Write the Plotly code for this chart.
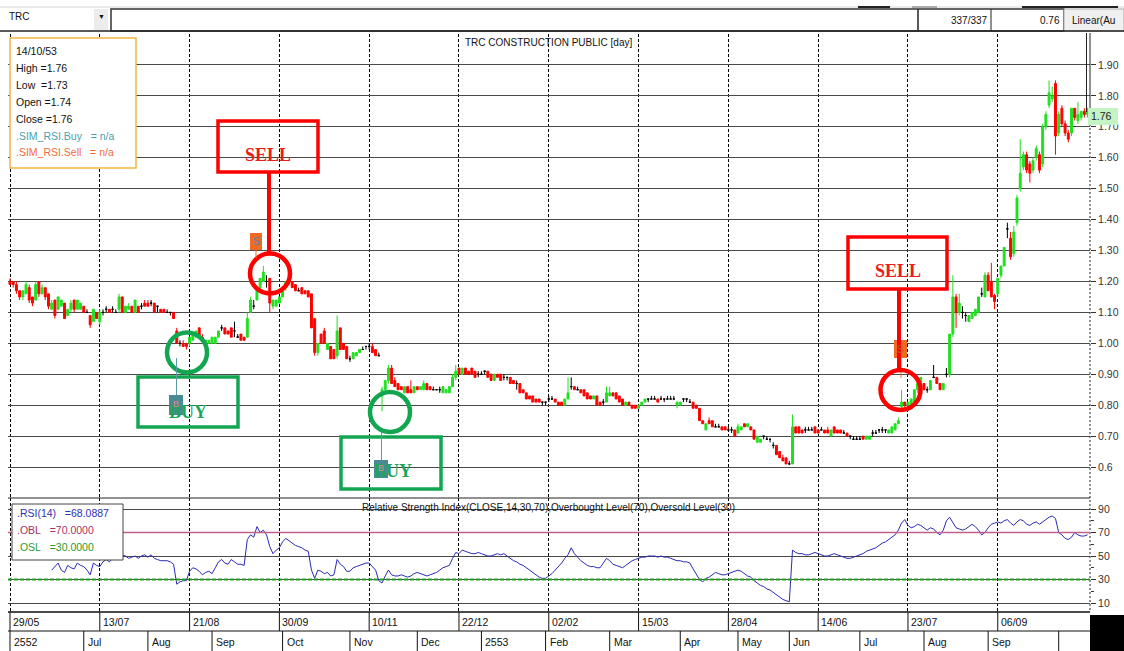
import plotly.graph_objects as go

# ---------------- data ----------------
symbol = "TRC"
title_text = "TRC CONSTRUCTION PUBLIC [day]"
last_date = "14/10/53"

opens = [
    1.20,1.20,1.19,1.17,1.15,1.16,1.18,1.15,1.14,1.20,
    1.16,1.18,1.16,1.11,1.14,1.11,1.12,1.13,1.09,1.11,
    1.14,1.11,1.11,1.12,1.10,1.09,1.07,1.10,1.07,1.10,
    1.11,1.11,1.11,1.10,1.11,1.15,1.10,1.11,1.12,1.10,
    1.12,1.12,1.13,1.13,1.13,1.13,1.12,1.11,1.11,1.10,
    1.10,1.10,1.04,1.00,1.00,1.00,1.00,1.01,1.02,1.05,
    1.02,0.99,1.00,1.00,1.00,1.02,1.05,1.05,1.04,1.05,
    1.04,1.02,1.03,1.02,1.02,1.10,1.12,1.14,1.18,1.20,
    1.20,1.21,1.12,1.12,1.13,1.15,1.18,1.20,1.20,1.19,
    1.17,1.18,1.17,1.17,1.16,1.08,0.97,1.03,1.04,0.98,
    0.99,0.98,0.96,1.05,1.00,0.99,0.95,0.95,0.96,0.97,
    0.98,0.99,0.99,0.99,0.98,0.96,0.83,0.85,0.88,0.92,
    0.88,0.87,0.86,0.84,0.86,0.85,0.84,0.86,0.85,0.85,
    0.87,0.86,0.85,0.85,0.85,0.84,0.84,0.84,0.86,0.89,
    0.92,0.90,0.92,0.91,0.92,0.91,0.90,0.90,0.91,0.91,
    0.90,0.88,0.90,0.90,0.89,0.89,0.89,0.88,0.87,0.87,
    0.85,0.84,0.83,0.83,0.82,0.82,0.81,0.81,0.82,0.82,
    0.82,0.81,0.81,0.80,0.82,0.86,0.86,0.85,0.85,0.85,
    0.84,0.83,0.82,0.83,0.81,0.81,0.81,0.83,0.84,0.84,
    0.83,0.82,0.80,0.81,0.80,0.80,0.79,0.80,0.81,0.82,
    0.82,0.82,0.82,0.82,0.82,0.82,0.82,0.82,0.80,0.80,
    0.82,0.82,0.81,0.81,0.80,0.79,0.75,0.72,0.75,0.75,
    0.73,0.73,0.73,0.73,0.72,0.72,0.72,0.71,0.72,0.74,
    0.73,0.73,0.72,0.68,0.68,0.70,0.69,0.69,0.67,0.67,
    0.65,0.63,0.63,0.61,0.61,0.73,0.73,0.72,0.72,0.72,
    0.72,0.73,0.72,0.72,0.72,0.72,0.70,0.73,0.72,0.72,
    0.71,0.71,0.70,0.69,0.69,0.69,0.70,0.69,0.69,0.71,
    0.71,0.72,0.72,0.72,0.71,0.71,0.72,0.74,0.795,0.81,
    0.80,0.80,0.81,0.85,0.86,0.87,0.85,0.85,0.89,0.89,
    0.87,0.85,0.90,0.90,1.03,1.15,1.10,1.10,1.09,1.07,
    1.08,1.09,1.10,1.16,1.15,1.22,1.20,1.155,1.16,1.22,
    1.25,1.37,1.34,1.29,1.39,1.50,1.57,1.61,1.58,1.56,
    1.60,1.61,1.58,1.70,1.77,1.79,1.84,1.68,1.76,1.71,
    1.68,1.68,1.76,1.72,1.73,1.75,1.74,
]
highs = [
    1.21,1.20,1.20,1.17,1.17,1.20,1.19,1.15,1.20,1.20,
    1.19,1.18,1.16,1.14,1.14,1.15,1.14,1.13,1.11,1.14,
    1.14,1.14,1.13,1.12,1.11,1.09,1.11,1.10,1.11,1.11,
    1.12,1.11,1.12,1.11,1.16,1.15,1.12,1.13,1.12,1.14,
    1.12,1.13,1.14,1.14,1.14,1.13,1.12,1.11,1.11,1.11,
    1.10,1.10,1.05,1.01,1.01,1.00,1.02,1.03,1.04,1.05,
    1.03,1.01,1.01,1.02,1.02,1.04,1.06,1.05,1.04,1.05,
    1.07,1.03,1.03,1.02,1.10,1.15,1.14,1.18,1.21,1.25,
    1.22,1.21,1.14,1.14,1.15,1.18,1.20,1.21,1.20,1.19,
    1.18,1.18,1.17,1.17,1.16,1.08,1.00,1.03,1.05,1.00,
    0.99,0.98,1.09,1.05,1.00,0.99,0.96,0.97,0.97,0.98,
    0.99,0.99,1.00,1.00,0.98,0.97,0.86,0.88,0.93,0.93,
    0.89,0.87,0.86,0.86,0.86,0.88,0.86,0.86,0.86,0.88,
    0.87,0.86,0.86,0.85,0.86,0.86,0.85,0.86,0.90,0.93,
    0.92,0.92,0.92,0.91,0.92,0.91,0.91,0.91,0.91,0.91,
    0.90,0.90,0.90,0.90,0.90,0.89,0.89,0.88,0.88,0.87,
    0.85,0.84,0.83,0.83,0.82,0.82,0.81,0.81,0.83,0.83,
    0.82,0.81,0.81,0.82,0.89,0.89,0.86,0.86,0.85,0.85,
    0.84,0.83,0.83,0.83,0.81,0.82,0.86,0.86,0.84,0.84,
    0.83,0.82,0.81,0.81,0.80,0.80,0.80,0.81,0.82,0.82,
    0.83,0.83,0.82,0.83,0.82,0.83,0.83,0.83,0.81,0.81,
    0.82,0.82,0.82,0.81,0.80,0.79,0.75,0.74,0.76,0.75,
    0.74,0.74,0.73,0.73,0.73,0.73,0.72,0.74,0.73,0.74,
    0.74,0.73,0.72,0.70,0.69,0.70,0.70,0.69,0.68,0.67,
    0.65,0.64,0.63,0.62,0.77,0.73,0.73,0.72,0.73,0.73,
    0.73,0.73,0.72,0.73,0.72,0.73,0.72,0.73,0.72,0.72,
    0.72,0.71,0.70,0.70,0.70,0.70,0.70,0.70,0.70,0.72,
    0.72,0.72,0.73,0.72,0.72,0.73,0.74,0.76,0.85,0.81,
    0.81,0.82,0.85,0.87,0.89,0.87,0.86,0.88,0.93,0.89,
    0.87,0.87,0.92,1.03,1.22,1.16,1.16,1.12,1.10,1.09,
    1.10,1.11,1.15,1.18,1.23,1.23,1.26,1.16,1.21,1.25,
    1.31,1.39,1.36,1.38,1.48,1.66,1.62,1.62,1.59,1.60,
    1.64,1.62,1.71,1.75,1.85,1.83,1.85,1.75,1.77,1.72,
    1.69,1.76,1.76,1.78,1.75,1.76,1.76,
]
lows = [
    1.19,1.18,1.16,1.14,1.14,1.16,1.13,1.12,1.14,1.15,
    1.16,1.14,1.11,1.11,1.08,1.11,1.12,1.08,1.09,1.10,
    1.10,1.11,1.11,1.10,1.10,1.05,1.07,1.08,1.06,1.09,
    1.10,1.10,1.10,1.10,1.10,1.10,1.10,1.11,1.10,1.10,
    1.10,1.11,1.12,1.12,1.12,1.10,1.10,1.10,1.10,1.10,
    1.09,1.08,1.00,0.99,0.99,0.98,0.99,1.01,1.02,1.02,
    1.01,0.99,1.00,1.00,1.00,1.02,1.04,1.03,1.03,1.02,
    1.02,1.02,1.01,1.01,1.02,1.10,1.11,1.14,1.17,1.20,
    1.18,1.10,1.11,1.12,1.13,1.15,1.17,1.19,1.18,1.17,
    1.17,1.16,1.16,1.15,1.05,0.96,0.96,1.00,1.00,0.98,
    0.95,0.95,0.95,0.98,0.98,0.95,0.94,0.95,0.96,0.97,
    0.98,0.98,0.98,0.97,0.96,0.96,0.78,0.84,0.87,0.87,
    0.86,0.85,0.85,0.84,0.84,0.84,0.84,0.85,0.85,0.85,
    0.85,0.85,0.85,0.85,0.84,0.84,0.84,0.84,0.86,0.88,
    0.90,0.90,0.90,0.90,0.90,0.89,0.89,0.90,0.90,0.89,
    0.88,0.88,0.89,0.88,0.88,0.88,0.87,0.87,0.85,0.84,
    0.84,0.82,0.82,0.81,0.81,0.81,0.80,0.80,0.81,0.82,
    0.81,0.80,0.80,0.80,0.82,0.85,0.85,0.85,0.84,0.83,
    0.82,0.82,0.82,0.80,0.80,0.80,0.81,0.83,0.83,0.82,
    0.81,0.80,0.80,0.80,0.79,0.79,0.79,0.80,0.81,0.81,
    0.82,0.82,0.81,0.82,0.81,0.82,0.82,0.82,0.79,0.80,
    0.81,0.81,0.81,0.79,0.79,0.75,0.74,0.72,0.74,0.73,
    0.73,0.73,0.72,0.72,0.72,0.71,0.70,0.71,0.72,0.73,
    0.73,0.72,0.69,0.68,0.68,0.69,0.69,0.68,0.66,0.64,
    0.63,0.62,0.61,0.61,0.61,0.71,0.71,0.71,0.71,0.72,
    0.72,0.71,0.71,0.72,0.71,0.71,0.70,0.71,0.71,0.71,
    0.71,0.70,0.69,0.69,0.69,0.69,0.69,0.69,0.69,0.70,
    0.71,0.71,0.71,0.71,0.71,0.71,0.72,0.74,0.79,0.79,
    0.79,0.80,0.81,0.84,0.86,0.85,0.84,0.85,0.89,0.87,
    0.85,0.85,0.89,0.89,1.02,1.05,1.09,1.08,1.07,1.07,
    1.08,1.09,1.10,1.15,1.15,1.17,1.15,1.11,1.15,1.21,
    1.25,1.34,1.27,1.28,1.38,1.49,1.56,1.55,1.52,1.55,
    1.59,1.55,1.57,1.69,1.76,1.78,1.61,1.67,1.70,1.67,
    1.65,1.67,1.72,1.71,1.72,1.73,1.73,
]
closes = [
    1.19,1.19,1.17,1.15,1.17,1.19,1.14,1.13,1.19,1.16,
    1.18,1.15,1.12,1.13,1.09,1.15,1.14,1.08,1.11,1.13,
    1.11,1.14,1.13,1.10,1.10,1.06,1.11,1.08,1.10,1.10,
    1.11,1.10,1.11,1.10,1.15,1.10,1.12,1.12,1.10,1.14,
    1.10,1.12,1.12,1.12,1.13,1.10,1.12,1.10,1.10,1.10,
    1.10,1.08,1.00,1.00,0.99,0.99,1.02,1.03,1.04,1.02,
    1.01,1.01,1.01,1.02,1.02,1.04,1.05,1.03,1.03,1.02,
    1.04,1.02,1.01,1.01,1.08,1.14,1.12,1.18,1.21,1.23,
    1.20,1.13,1.14,1.14,1.15,1.18,1.20,1.20,1.18,1.17,
    1.17,1.16,1.16,1.15,1.05,0.97,1.00,1.00,1.00,1.00,
    0.95,0.95,1.04,0.98,0.98,0.95,0.95,0.97,0.97,0.98,
    0.98,0.99,0.99,0.97,0.96,0.96,0.85,0.88,0.92,0.87,
    0.86,0.85,0.85,0.86,0.84,0.84,0.86,0.85,0.86,0.87,
    0.85,0.85,0.85,0.85,0.85,0.86,0.85,0.86,0.89,0.91,
    0.90,0.92,0.90,0.90,0.90,0.89,0.90,0.90,0.91,0.89,
    0.88,0.90,0.89,0.88,0.89,0.89,0.87,0.87,0.87,0.84,
    0.84,0.82,0.82,0.81,0.81,0.81,0.81,0.81,0.82,0.82,
    0.81,0.80,0.80,0.82,0.84,0.86,0.85,0.85,0.84,0.83,
    0.82,0.82,0.83,0.80,0.80,0.81,0.84,0.84,0.83,0.82,
    0.81,0.80,0.81,0.80,0.79,0.79,0.80,0.81,0.82,0.82,
    0.82,0.82,0.81,0.82,0.82,0.82,0.82,0.82,0.81,0.81,
    0.82,0.82,0.81,0.79,0.79,0.75,0.74,0.74,0.74,0.73,
    0.73,0.73,0.72,0.72,0.72,0.72,0.70,0.73,0.73,0.73,
    0.74,0.72,0.69,0.70,0.69,0.70,0.69,0.69,0.67,0.64,
    0.63,0.62,0.61,0.61,0.73,0.71,0.71,0.71,0.72,0.72,
    0.72,0.71,0.71,0.72,0.71,0.71,0.72,0.71,0.71,0.71,
    0.71,0.70,0.70,0.69,0.69,0.69,0.69,0.70,0.70,0.71,
    0.71,0.72,0.72,0.72,0.72,0.73,0.74,0.75,0.81,0.80,
    0.81,0.82,0.85,0.87,0.89,0.85,0.85,0.88,0.89,0.87,
    0.85,0.87,0.90,1.03,1.15,1.10,1.13,1.10,1.09,1.09,
    1.10,1.11,1.15,1.16,1.22,1.17,1.15,1.135,1.21,1.25,
    1.31,1.37,1.28,1.36,1.47,1.55,1.61,1.56,1.55,1.59,
    1.63,1.56,1.70,1.74,1.81,1.80,1.67,1.74,1.71,1.68,
    1.66,1.76,1.73,1.74,1.75,1.74,1.76,
]

rsi_start = 13
rsi_values = [
    38,41,44,38,36,42,40,39,44,42,41,38,34,44,42,41,
    45,47,45,48,50,48,51,50,48,49,50,48,50,51,49,51,48,47,46,46,46,45,43,
    26,28,29,29,37,40,39,37,34,36,37,35,40,45,47,44,43,47,45,43,43,42,
    64,68,66,75,70,72,68,58,52,55,57,62,65,63,61,59,58,57,55,54,
    38,31,38,37,35,36,33,34,47,43,41,37,37,40,41,42,43,44,44,41,38,29,
    27,33,38,34,33,33,34,33,32,33,35,36,35,34,33,34,35,36,38,40,41,42,48,53,52,
    55,54,53,52,52,53,52,51,50,50,51,52,51,52,50,48,46,45,43,42,40,38,36,34,32,31,31,33,35,38,
    41,44,48,51,57,52,49,46,44,42,41,41,40,40,44,48,46,43,42,41,40,42,44,46,47,48,49,49,50,50,
    50,49,50,49,49,48,47,46,46,45,45,44,39,34,30,28,31,32,34,36,35,34,34,35,36,37,38,37,35,33,
    32,29,27,25,24,22,21,19,17,15,13,12,11,
    55,53,52,52,51,51,52,53,52,51,50,50,51,52,51,50,49,48,48,49,50,51,52,54,55,56,57,59,61,62,64,66,68,
    72,78,81,76,74,75,77,76,74,72,74,73,70,68,72,80,83,79,74,73,72,73,75,77,75,72,68,70,74,77,78,79,78,80,
    81,78,76,79,81,80,77,76,78,79,77,79,81,83,84,82,70,68,65,64,66,70,68,67,67,68.0887,
]
obl_level = 70
osl_level = 30

date_tick_bars = [0, 28, 56, 84, 112, 140, 168, 196, 224, 252, 280, 308]
date_tick_labels = ["29/05", "13/07", "21/08", "30/09", "10/11", "22/12",
                    "02/02", "15/03", "28/04", "14/06", "23/07", "06/09"]
month_bars = [0, 23, 43, 63, 85, 106, 127, 147, 167, 187, 209, 227, 243, 265, 285, 305, 327]
month_labels = ["2552", "Jul", "Aug", "Sep", "Oct", "Nov", "Dec", "2553", "Feb", "Mar",
                "Apr", "May", "Jun", "Jul", "Aug", "Sep", ""]
price_ticks = [0.6, 0.7, 0.8, 0.9, 1.0, 1.1, 1.2, 1.3, 1.4, 1.5, 1.6, 1.7, 1.8, 1.9]
price_tick_text = ["0.6", "0.70", "0.80", "0.90", "1.00", "1.10", "1.20", "1.30",
                   "1.40", "1.50", "1.60", "1.70", "1.80", "1.90"]
rsi_ticks = [10, 30, 50, 70, 90]
rsi_minor_ticks = [20, 40, 60, 80]

# ---------------- geometry / style ----------------
W, H = 1124, 651
FONT = "Liberation Sans, Arial, sans-serif"
SERIF = "Liberation Serif, Times New Roman, serif"
FS = 10
NB = "\u00a0"
GREEN_C = "#1fe01f"
RED_C = "#ff0000"
SIG_RED = "#ff0000"
SIG_GREEN = "#13a651"
TEAL = "#4a8a96"
ORANGE = "#f26a21"
GRID = "#4a4a4a"

PLOT_L, PLOT_R = 8, 1090
X0, DX = 10.0, 3.207
xr = [(PLOT_L - X0) / DX, (PLOT_R - X0) / DX]


def px(x):
    return x / W


def py(y):
    return 1 - y / H


n = len(closes)
ids = list(range(n))
up = [i for i in ids if closes[i] > opens[i] + 1e-9]
dn = [i for i in ids if closes[i] < opens[i] - 1e-9]
dj = [i for i in ids if abs(closes[i] - opens[i]) <= 1e-9]


def candles(sel, inc, dec):
    return go.Candlestick(
        x=sel,
        open=[opens[i] for i in sel], high=[highs[i] for i in sel],
        low=[lows[i] for i in sel], close=[closes[i] for i in sel],
        increasing=dict(line=dict(color=inc, width=1), fillcolor=inc),
        decreasing=dict(line=dict(color=dec, width=1), fillcolor=dec),
        whiskerwidth=0, showlegend=False, hoverinfo="skip",
        xaxis="x", yaxis="y")


fig = go.Figure()
fig.add_trace(candles(up, GREEN_C, GREEN_C))
fig.add_trace(candles(dn, RED_C, RED_C))
fig.add_trace(candles(dj, "#000000", "#000000"))
fig.add_trace(go.Scatter(
    x=list(range(rsi_start, rsi_start + len(rsi_values))), y=rsi_values,
    mode="lines", line=dict(color="#2a2ab4", width=1),
    showlegend=False, hoverinfo="skip", xaxis="x2", yaxis="y2"))

shapes = []
annots = []


def line(x0, y0, x1, y1, color="#000", width=1, dash=None):
    ln = dict(color=color, width=width)
    if dash:
        ln["dash"] = dash
    shapes.append(dict(type="line", xref="paper", yref="paper", x0=px(x0), y0=py(y0),
                       x1=px(x1), y1=py(y1), line=ln, layer="above"))


def rect(x0, y0, x1, y1, fill=None, color=None, width=1):
    shapes.append(dict(type="rect", xref="paper", yref="paper", x0=px(x0), y0=py(y1),
                       x1=px(x1), y1=py(y0), layer="above",
                       line=dict(width=width if color else 0,
                                 color=color or "rgba(0,0,0,0)"),
                       fillcolor=fill or "rgba(0,0,0,0)"))


def circle(cx, cy, r, color, width):
    shapes.append(dict(type="circle", xref="paper", yref="paper", x0=px(cx - r), x1=px(cx + r),
                       y0=py(cy + r), y1=py(cy - r), line=dict(color=color, width=width),
                       layer="above"))


def text(x, y, s, size=FS, color="#111", anchor="left", family=FONT):
    annots.append(dict(xref="paper", yref="paper", x=px(x), y=py(y), text=s, showarrow=False,
                       xanchor=anchor, yanchor="middle", borderpad=0,
                       font=dict(size=size, color=color, family=family)))


# --- top toolbar
line(0, 7, 1124, 7, "#d5d5d5", 1)
line(858, 7, 890, 7, "#222", 2)
line(912, 7, 937, 7, "#aaa", 2)
line(1022, 7, 1118, 7, "#222", 2)
rect(94, 9, 108, 30, fill="#ececec")
text(101, 17, "\u25BC", size=7, color="#111", anchor="center")
text(8, 16, symbol, size=FS)
rect(111, 9, 1064, 31, color="#333", width=1.5)
line(918, 9, 918, 31, "#222", 1.5)
line(991, 9, 991, 31, "#222", 1)
rect(1064, 9, 1124, 31, fill="#f0f0f0", color="#aaaaaa", width=1)
text(989, 20, "337/337", anchor="right")
text(1061, 20, "0.76", anchor="right")
text(1071, 20, "Linear(Au", anchor="left")
line(0, 31, 1124, 31, "#222", 1.5)

# --- frames
line(PLOT_L, 498, PLOT_R, 498, "#222", 1)
line(1086.5, 33, 1086.5, 112, "#222", 1)
line(PLOT_R, 33, PLOT_R, 112, "#222", 1)
line(PLOT_R, 112, PLOT_R, 612, "#222", 1, dash="2px,2px")

# --- RSI levels
shapes.append(dict(type="line", xref="paper", yref="y2", x0=px(PLOT_L), x1=px(PLOT_R),
                   y0=obl_level, y1=obl_level, line=dict(color="#c0608c", width=1.5),
                   layer="above"))
shapes.append(dict(type="line", xref="paper", yref="y2", x0=px(PLOT_L), x1=px(PLOT_R),
                   y0=osl_level, y1=osl_level,
                   line=dict(color="#1f9e1f", width=2, dash="4px,2px"), layer="above"))

# --- titles
text(548, 43, title_text, size=FS, anchor="center")
text(548, 507, "Relative Strength Index(CLOSE,14,30,70),Overbought Level(70),Oversold Level(30)",
     size=FS, anchor="center")

# --- info box
rect(10, 38, 136, 168, fill="white", color="#f5b443", width=1.5)
info_lines = [
    (last_date, "#111"),
    ("High" + NB + "=%.2f" % highs[-1], "#111"),
    ("Low" + NB + NB + "=%.2f" % lows[-1], "#111"),
    ("Open" + NB + "=%.2f" % opens[-1], "#111"),
    ("Close" + NB + "=%.2f" % closes[-1], "#111"),
    (".SIM_RSI.Buy" + NB * 3 + "=" + NB + "n/a", "#4aa0b0"),
    (".SIM_RSI.Sell" + NB * 3 + "=" + NB + "n/a", "#f26a3a"),
]
for k, (s, c) in enumerate(info_lines):
    text(15, 51 + k * 16.9, s, size=FS + 0.5, color=c)

# --- RSI legend box
rect(12, 504, 123, 560, fill="white", color="#444", width=1)
text(16, 513, ".RSI(14)" + NB * 3 + "=%.4f" % rsi_values[-1], size=FS + 0.5, color="#3030b0")
text(16, 530, ".OBL" + NB * 3 + "=%.4f" % obl_level, size=FS + 0.5, color="#a83266")
text(16, 547, ".OSL" + NB * 3 + "=%.4f" % osl_level, size=FS + 0.5, color="#2a9a2a")

# --- last price label
rect(1088, 108, 1118, 125, fill="#c4f3c4")
text(1090, 116.5, "%.2f" % closes[-1], size=FS + 0.5, color="#222")

# --- signals
# sell 1
rect(218, 121, 318, 172, color=SIG_RED, width=3.5)
text(268, 155, "<b>SELL</b>", size=18, color="#ee1c1c", anchor="center", family=SERIF)
line(269, 172, 269, 252, SIG_RED, 4)
circle(270, 273.5, 20, SIG_RED, 4.5)
rect(250, 233, 262, 250, fill=ORANGE)
text(256, 241.5, "S", size=10, color="#4f86c6", anchor="center")
line(256, 250, 256, 258, ORANGE, 1)
# buy 1
rect(138, 377, 238, 427, color=SIG_GREEN, width=3.5)
text(188, 412, "<b>BUY</b>", size=18, color="#1ca65a", anchor="center", family=SERIF)
circle(187, 352.5, 20, SIG_GREEN, 4.5)
line(176.5, 358, 176.5, 395, "#5d9ba6", 1)
rect(169, 395, 183, 415, fill=TEAL)
text(176, 404, "B", size=9, color="#e28585", anchor="center")
# buy 2
rect(341, 437, 441, 489, color=SIG_GREEN, width=3.5)
text(393, 471, "<b>BUY</b>", size=18, color="#1ca65a", anchor="center", family=SERIF)
circle(390, 412, 20, SIG_GREEN, 4.5)
line(381.5, 432, 381.5, 460, "#5d9ba6", 1)
rect(374, 460, 388, 478, fill=TEAL)
text(381, 468, "B", size=9, color="#e28585", anchor="center")
# sell 2
rect(848, 237, 947, 289, color=SIG_RED, width=3.5)
text(898, 271, "<b>SELL</b>", size=18, color="#ee1c1c", anchor="center", family=SERIF)
rect(894, 340, 907, 358, fill=ORANGE)
text(900.5, 349, "S", size=10, color="#c05a30", anchor="center")
line(901, 358, 901, 378, ORANGE, 1)
line(899, 289, 899, 369, SIG_RED, 4)
circle(900.5, 390, 20, SIG_RED, 4.5)

# --- date / month rows
line(PLOT_L, 612, PLOT_R, 612, "#111", 1.5)
line(PLOT_L, 631, PLOT_R, 631, "#111", 1)
for b, lab in zip(date_tick_bars, date_tick_labels):
    shapes.append(dict(type="line", xref="x", yref="paper", x0=b, x1=b, y0=py(631), y1=py(612),
                       line=dict(color="#111", width=1), layer="above"))
    annots.append(dict(xref="x", yref="paper", x=b, y=py(621.5), text=lab, showarrow=False,
                       xanchor="left", yanchor="middle", xshift=2, borderpad=0,
                       font=dict(size=FS + 0.5, color="#111", family=FONT)))
for b, lab in zip(month_bars, month_labels):
    shapes.append(dict(type="line", xref="x", yref="paper", x0=b, x1=b, y0=py(651), y1=py(631),
                       line=dict(color="#111", width=1), layer="above"))
    if lab:
        annots.append(dict(xref="x", yref="paper", x=b, y=py(641.5), text=lab, showarrow=False,
                           xanchor="left", yanchor="middle", xshift=3, borderpad=0,
                           font=dict(size=FS + 0.5, color="#111", family=FONT)))
rect(1090, 615, 1124, 651, fill="#000000")

xcommon = dict(domain=[px(PLOT_L), px(PLOT_R)], range=xr, showticklabels=False, ticks="",
               showgrid=True, tickvals=date_tick_bars, gridcolor="#000000",
               griddash="3px,2px", gridwidth=1, zeroline=False, showline=False,
               fixedrange=True)

fig.update_layout(
    width=W, height=H, margin=dict(l=0, r=0, t=0, b=0, pad=0),
    paper_bgcolor="white", plot_bgcolor="white", showlegend=False, hovermode=False,
    boxmode="overlay", boxgap=0.25, boxgroupgap=0.2,
    xaxis=dict(**xcommon, anchor="y", rangeslider=dict(visible=False)),
    xaxis2=dict(**xcommon, anchor="y2"),
    yaxis=dict(domain=[py(498), py(34)], range=[0.5, 2.0], side="right", anchor="x",
               tickvals=price_ticks, ticktext=price_tick_text, ticks="outside", ticklen=5,
               tickcolor="#333", tickfont=dict(size=FS + 0.5, color="#333", family=FONT),
               showgrid=True, gridcolor=GRID, gridwidth=1, zeroline=False,
               showline=False, automargin=False, fixedrange=True),
    yaxis2=dict(domain=[py(612), py(498)], range=[2.34, 99.36], side="right", anchor="x2",
                tickvals=rsi_ticks, ticks="outside", ticklen=5, tickcolor="#333",
                tickfont=dict(size=FS + 0.5, color="#333", family=FONT),
                minor=dict(tickvals=rsi_minor_ticks, ticks="outside", ticklen=3,
                           tickcolor="#333", showgrid=False),
                showgrid=True, gridcolor=GRID, gridwidth=1, zeroline=False,
                showline=False, automargin=False, fixedrange=True),
    shapes=shapes, annotations=annots,
)

fig.write_html("out.html", config={"displayModeBar": False},
               post_script="document.body.style.margin='0px';document.body.style.overflow='hidden';")
